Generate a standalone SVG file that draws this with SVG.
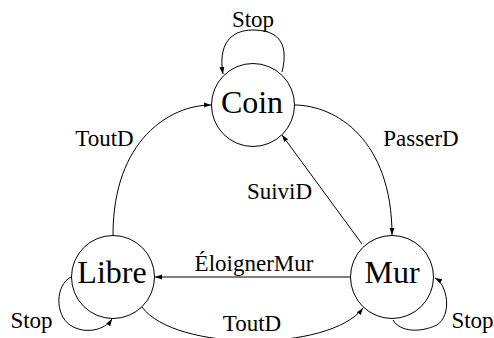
<svg xmlns="http://www.w3.org/2000/svg" width="494" height="338" viewBox="0 0 494 338">
<style>
.node{fill:#fff;stroke:#000;stroke-width:1}
.nt{font-family:'Liberation Serif','Times New Roman','DejaVu Serif',serif;font-size:32px;text-anchor:middle;fill:#000}
.lb{font-family:'Liberation Serif','Times New Roman','DejaVu Serif',serif;font-size:23px;text-anchor:middle;fill:#000}
.e{fill:none;stroke:#000;stroke-width:1;marker-end:url(#ah)}
</style>
<defs>
<marker id="ah" viewBox="0 0 10 10" refX="10" refY="5" markerWidth="7" markerHeight="7" markerUnits="userSpaceOnUse" orient="auto">
<path d="M0,1.5 L10,5 L0,8.5 z" fill="#000"/>
</marker>
</defs>
<rect width="494" height="338" fill="#fff"/>
<g id="connectors">
<path class="e" d="M282,72 C290,40 275,30 253,30 C230,30 218,45 223,74"/>
<path class="e" d="M113,235 C113,140 170,105 211,105"/>
<path class="e" d="M294,105 C336,105 392,140 392,235"/>
<path class="e" d="M362,244 L282,135"/>
<path class="e" d="M351,277 L155,277"/>
<path class="e" d="M142,307 C175,352 330,352 363,308"/>
<path class="e" d="M71,277 C55,285 55,315 70,325 C85,335 105,330 112,319"/>
<path class="e" d="M393,320 C400,332 420,333 437,325 C452,315 448,285 435,278"/>
<text class="lb" x="253" y="27" font-family="Liberation Serif">Stop</text>
<text class="lb" x="104.5" y="146" font-family="Liberation Serif">ToutD</text>
<text class="lb" x="421" y="146" font-family="Liberation Serif">PasserD</text>
<text class="lb" x="279.5" y="199" font-family="Liberation Serif">SuiviD</text>
<text class="lb" x="254" y="271" font-family="Liberation Serif">ÉloignerMur</text>
<text class="lb" x="252" y="331" font-family="Liberation Serif">ToutD</text>
<text class="lb" x="31.5" y="328" font-family="Liberation Serif">Stop</text>
<text class="lb" x="472.5" y="328" font-family="Liberation Serif">Stop</text>
</g>
<g id="coin">
<circle class="node" cx="253" cy="105" r="41.5"/>
<text class="nt" x="252" y="113" font-family="Liberation Serif">Coin</text>
</g>
<g id="libre">
<circle class="node" cx="113" cy="277" r="41.5"/>
<text class="nt" x="112" y="283" font-family="Liberation Serif">Libre</text>
</g>
<g id="mur">
<circle class="node" cx="392" cy="277" r="41.5"/>
<text class="nt" x="392" y="283" font-family="Liberation Serif">Mur</text>
</g>
</svg>
